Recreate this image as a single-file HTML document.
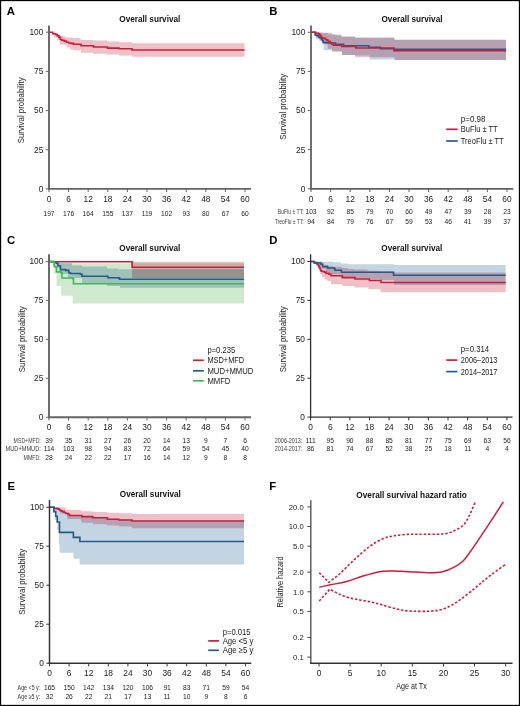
<!DOCTYPE html><html><head><meta charset="utf-8"><style>html,body{margin:0;padding:0;background:#fff}svg{display:block}text{font-family:"Liberation Sans",sans-serif}</style></head><body>
<svg width="520" height="706" viewBox="0 0 520 706">
<rect x="0" y="0" width="520" height="706" fill="#fff"/>
<text transform="translate(6.80,14.90)" font-size="11.3" font-weight="bold" text-anchor="start" fill="#000">A</text>
<text transform="translate(269.30,14.90)" font-size="11.3" font-weight="bold" text-anchor="start" fill="#000">B</text>
<text transform="translate(7.00,243.70)" font-size="11.3" font-weight="bold" text-anchor="start" fill="#000">C</text>
<text transform="translate(269.30,243.50)" font-size="11.3" font-weight="bold" text-anchor="start" fill="#000">D</text>
<text transform="translate(7.40,489.90)" font-size="11.3" font-weight="bold" text-anchor="start" fill="#000">E</text>
<text transform="translate(269.30,489.90)" font-size="11.3" font-weight="bold" text-anchor="start" fill="#000">F</text>
<text transform="translate(149.80,22.40)" font-size="9.3" font-weight="bold" text-anchor="middle" fill="#111" textLength="61" lengthAdjust="spacingAndGlyphs">Overall survival</text>
<text transform="translate(412.00,22.40)" font-size="9.3" font-weight="bold" text-anchor="middle" fill="#111" textLength="61" lengthAdjust="spacingAndGlyphs">Overall survival</text>
<text transform="translate(149.80,251.00)" font-size="9.3" font-weight="bold" text-anchor="middle" fill="#111" textLength="61" lengthAdjust="spacingAndGlyphs">Overall survival</text>
<text transform="translate(411.80,251.00)" font-size="9.3" font-weight="bold" text-anchor="middle" fill="#111" textLength="61" lengthAdjust="spacingAndGlyphs">Overall survival</text>
<text transform="translate(150.30,497.40)" font-size="9.3" font-weight="bold" text-anchor="middle" fill="#111" textLength="61" lengthAdjust="spacingAndGlyphs">Overall survival</text>
<text transform="translate(411.60,497.50)" font-size="9.6" font-weight="bold" text-anchor="middle" fill="#111" textLength="110.5" lengthAdjust="spacingAndGlyphs">Overall survival hazard ratio</text>
<path d="M49.00,32.20 L52.60,32.20 L52.60,32.20 L54.90,32.20 L54.90,33.40 L58.00,33.40 L58.00,34.50 L60.30,34.50 L60.30,35.70 L63.40,35.70 L63.40,36.50 L65.70,36.50 L65.70,37.60 L72.60,37.60 L72.60,38.00 L79.50,38.00 L79.50,38.80 L81.00,38.80 L81.00,39.90 L93.00,39.90 L93.00,40.60 L107.00,40.60 L107.00,41.40 L119.00,41.40 L119.00,42.20 L132.00,42.20 L132.00,43.30 L244.50,43.30 L244.50,56.80 L132.00,56.80 L132.00,55.40 L119.00,55.40 L119.00,54.60 L107.00,54.60 L107.00,53.80 L93.00,53.80 L93.00,52.80 L81.00,52.80 L81.00,50.30 L73.40,50.30 L73.40,49.50 L70.30,49.50 L70.30,47.60 L66.80,47.60 L66.80,45.30 L63.40,45.30 L63.40,44.50 L59.90,44.50 L59.90,39.90 L57.20,39.90 L57.20,37.60 L54.20,37.60 L54.20,35.70 L53.40,35.70 L53.40,32.60 L51.00,32.60 L51.00,32.20 L49.00,32.20Z" fill="#eec1c9" style="mix-blend-mode:multiply"/>
<path d="M49.00,32.20H52.60V33.80H55.70V34.50H57.20V35.70H58.80V37.20H60.30V39.50H61.80V40.30H64.20V41.10H66.50V42.20H68.80V43.00H71.00V43.40H73.40V44.20H81.00V45.80H93.50V47.00H107.50V48.10H119.00V48.80H132.00V50.00H244.50" fill="none" stroke="#cc1c3c" stroke-width="1.6" stroke-linejoin="miter"/>
<line x1="49" y1="25.4" x2="49" y2="189.85" stroke="#646464" stroke-width="1.9"/>
<line x1="48.05" y1="188.9" x2="251" y2="188.9" stroke="#646464" stroke-width="1.9"/>
<line x1="45.8" y1="32.20" x2="49" y2="32.20" stroke="#646464" stroke-width="1"/>
<text transform="translate(43.40,35.10) scale(1.020,1)" font-size="8.2" font-weight="normal" text-anchor="end" fill="#222222">100</text>
<line x1="45.8" y1="71.38" x2="49" y2="71.38" stroke="#646464" stroke-width="1"/>
<text transform="translate(43.40,74.28) scale(1.020,1)" font-size="8.2" font-weight="normal" text-anchor="end" fill="#222222">75</text>
<line x1="45.8" y1="110.55" x2="49" y2="110.55" stroke="#646464" stroke-width="1"/>
<text transform="translate(43.40,113.45) scale(1.020,1)" font-size="8.2" font-weight="normal" text-anchor="end" fill="#222222">50</text>
<line x1="45.8" y1="149.72" x2="49" y2="149.72" stroke="#646464" stroke-width="1"/>
<text transform="translate(43.40,152.62) scale(1.020,1)" font-size="8.2" font-weight="normal" text-anchor="end" fill="#222222">25</text>
<line x1="45.8" y1="188.90" x2="49" y2="188.90" stroke="#646464" stroke-width="1"/>
<text transform="translate(43.40,191.80) scale(1.020,1)" font-size="8.2" font-weight="normal" text-anchor="end" fill="#222222">0</text>
<line x1="49.00" y1="188.9" x2="49.00" y2="192.1" stroke="#646464" stroke-width="1"/>
<text transform="translate(49.00,202.00)" font-size="8.4" font-weight="normal" text-anchor="middle" fill="#222222">0</text>
<line x1="68.60" y1="188.9" x2="68.60" y2="192.1" stroke="#646464" stroke-width="1"/>
<text transform="translate(68.60,202.00)" font-size="8.4" font-weight="normal" text-anchor="middle" fill="#222222">6</text>
<line x1="88.20" y1="188.9" x2="88.20" y2="192.1" stroke="#646464" stroke-width="1"/>
<text transform="translate(88.20,202.00)" font-size="8.4" font-weight="normal" text-anchor="middle" fill="#222222">12</text>
<line x1="107.80" y1="188.9" x2="107.80" y2="192.1" stroke="#646464" stroke-width="1"/>
<text transform="translate(107.80,202.00)" font-size="8.4" font-weight="normal" text-anchor="middle" fill="#222222">18</text>
<line x1="127.40" y1="188.9" x2="127.40" y2="192.1" stroke="#646464" stroke-width="1"/>
<text transform="translate(127.40,202.00)" font-size="8.4" font-weight="normal" text-anchor="middle" fill="#222222">24</text>
<line x1="147.00" y1="188.9" x2="147.00" y2="192.1" stroke="#646464" stroke-width="1"/>
<text transform="translate(147.00,202.00)" font-size="8.4" font-weight="normal" text-anchor="middle" fill="#222222">30</text>
<line x1="166.60" y1="188.9" x2="166.60" y2="192.1" stroke="#646464" stroke-width="1"/>
<text transform="translate(166.60,202.00)" font-size="8.4" font-weight="normal" text-anchor="middle" fill="#222222">36</text>
<line x1="186.20" y1="188.9" x2="186.20" y2="192.1" stroke="#646464" stroke-width="1"/>
<text transform="translate(186.20,202.00)" font-size="8.4" font-weight="normal" text-anchor="middle" fill="#222222">42</text>
<line x1="205.80" y1="188.9" x2="205.80" y2="192.1" stroke="#646464" stroke-width="1"/>
<text transform="translate(205.80,202.00)" font-size="8.4" font-weight="normal" text-anchor="middle" fill="#222222">48</text>
<line x1="225.40" y1="188.9" x2="225.40" y2="192.1" stroke="#646464" stroke-width="1"/>
<text transform="translate(225.40,202.00)" font-size="8.4" font-weight="normal" text-anchor="middle" fill="#222222">54</text>
<line x1="245.00" y1="188.9" x2="245.00" y2="192.1" stroke="#646464" stroke-width="1"/>
<text transform="translate(245.00,202.00)" font-size="8.4" font-weight="normal" text-anchor="middle" fill="#222222">60</text>
<text transform="translate(24.00,110.30) rotate(-90)" font-size="9" font-weight="normal" text-anchor="middle" fill="#222222" textLength="66" lengthAdjust="spacingAndGlyphs">Survival probability</text>
<text transform="translate(49.00,215.80)" font-size="6.7" font-weight="normal" text-anchor="middle" fill="#222222">197</text>
<text transform="translate(68.60,215.80)" font-size="6.7" font-weight="normal" text-anchor="middle" fill="#222222">176</text>
<text transform="translate(88.20,215.80)" font-size="6.7" font-weight="normal" text-anchor="middle" fill="#222222">164</text>
<text transform="translate(107.80,215.80)" font-size="6.7" font-weight="normal" text-anchor="middle" fill="#222222">155</text>
<text transform="translate(127.40,215.80)" font-size="6.7" font-weight="normal" text-anchor="middle" fill="#222222">137</text>
<text transform="translate(147.00,215.80)" font-size="6.7" font-weight="normal" text-anchor="middle" fill="#222222">119</text>
<text transform="translate(166.60,215.80)" font-size="6.7" font-weight="normal" text-anchor="middle" fill="#222222">102</text>
<text transform="translate(186.20,215.80)" font-size="6.7" font-weight="normal" text-anchor="middle" fill="#222222">93</text>
<text transform="translate(205.80,215.80)" font-size="6.7" font-weight="normal" text-anchor="middle" fill="#222222">80</text>
<text transform="translate(225.40,215.80)" font-size="6.7" font-weight="normal" text-anchor="middle" fill="#222222">67</text>
<text transform="translate(245.00,215.80)" font-size="6.7" font-weight="normal" text-anchor="middle" fill="#222222">60</text>
<path d="M311.00,32.30 L319.00,32.30 L319.00,32.40 L325.00,32.40 L325.00,32.80 L332.00,32.80 L332.00,34.50 L341.30,34.50 L341.30,36.80 L355.00,36.80 L355.00,37.80 L394.00,37.80 L394.00,38.50 L394.50,38.50 L394.50,39.80 L506.00,39.80 L506.00,60.00 L394.50,60.00 L394.50,57.50 L394.00,57.50 L394.00,57.30 L369.60,57.30 L369.60,57.30 L355.00,57.30 L355.00,55.00 L342.00,55.00 L342.00,51.80 L332.00,51.80 L332.00,48.80 L327.80,48.80 L327.80,44.50 L325.50,44.50 L325.50,43.40 L321.70,43.40 L321.70,38.00 L319.50,38.00 L319.50,35.00 L317.00,35.00 L317.00,33.00 L314.00,33.00 L314.00,32.30 L311.00,32.30Z" fill="#eec1c9" style="mix-blend-mode:multiply"/>
<path d="M311.00,32.30 L316.00,32.30 L316.00,32.40 L322.00,32.40 L322.00,33.00 L328.00,33.00 L328.00,34.20 L335.00,34.20 L335.00,35.50 L342.00,35.50 L342.00,36.50 L355.00,36.50 L355.00,37.60 L394.00,37.60 L394.00,38.30 L394.50,38.30 L394.50,39.80 L506.00,39.80 L506.00,60.00 L394.50,60.00 L394.50,59.60 L394.00,59.60 L394.00,59.60 L369.60,59.60 L369.60,55.50 L355.00,55.50 L355.00,55.00 L342.00,55.00 L342.00,51.00 L332.00,51.00 L332.00,50.30 L323.60,50.30 L323.60,44.50 L322.50,44.50 L322.50,41.00 L319.00,41.00 L319.00,39.20 L316.00,39.20 L316.00,36.00 L315.00,36.00 L315.00,33.00 L313.00,33.00 L313.00,32.30 L311.00,32.30Z" fill="#c3d5e2" style="mix-blend-mode:multiply"/>
<path d="M311.00,32.30H315.20V35.30H316.70V35.70H318.20V36.80H319.40V37.60H321.30V39.50H322.50V40.70H323.20V42.20H324.40V42.60H328.20V43.00H335.50V44.20H343.60V45.70H355.00V45.80H368.80V47.30H380.40V48.80H394.00V49.40H506.00" fill="none" stroke="#255b8c" stroke-width="1.6" stroke-linejoin="miter"/>
<path d="M311.00,32.30H315.50V33.40H318.20V33.80H319.40V34.90H320.50V36.10H321.30V37.60H322.80V38.40H325.50V39.50H327.00V40.30H328.20V41.50H330.20V42.60H331.30V43.00H332.00V44.20H333.60V45.30H341.70V46.50H355.80V48.00H394.00V50.60H506.00" fill="none" stroke="#cc1c3c" stroke-width="1.6" stroke-linejoin="miter"/>
<line x1="311" y1="25.4" x2="311" y2="189.70000000000002" stroke="#606060" stroke-width="1.8"/>
<line x1="310.1" y1="188.8" x2="513.3" y2="188.8" stroke="#606060" stroke-width="1.8"/>
<line x1="307.8" y1="32.30" x2="311" y2="32.30" stroke="#606060" stroke-width="1"/>
<text transform="translate(305.40,35.20) scale(1.020,1)" font-size="8.2" font-weight="normal" text-anchor="end" fill="#222222">100</text>
<line x1="307.8" y1="71.42" x2="311" y2="71.42" stroke="#606060" stroke-width="1"/>
<text transform="translate(305.40,74.33) scale(1.020,1)" font-size="8.2" font-weight="normal" text-anchor="end" fill="#222222">75</text>
<line x1="307.8" y1="110.55" x2="311" y2="110.55" stroke="#606060" stroke-width="1"/>
<text transform="translate(305.40,113.45) scale(1.020,1)" font-size="8.2" font-weight="normal" text-anchor="end" fill="#222222">50</text>
<line x1="307.8" y1="149.68" x2="311" y2="149.68" stroke="#606060" stroke-width="1"/>
<text transform="translate(305.40,152.58) scale(1.020,1)" font-size="8.2" font-weight="normal" text-anchor="end" fill="#222222">25</text>
<line x1="307.8" y1="188.80" x2="311" y2="188.80" stroke="#606060" stroke-width="1"/>
<text transform="translate(305.40,191.70) scale(1.020,1)" font-size="8.2" font-weight="normal" text-anchor="end" fill="#222222">0</text>
<line x1="311.00" y1="188.8" x2="311.00" y2="192.0" stroke="#606060" stroke-width="1"/>
<text transform="translate(311.00,202.00)" font-size="8.4" font-weight="normal" text-anchor="middle" fill="#222222">0</text>
<line x1="330.60" y1="188.8" x2="330.60" y2="192.0" stroke="#606060" stroke-width="1"/>
<text transform="translate(330.60,202.00)" font-size="8.4" font-weight="normal" text-anchor="middle" fill="#222222">6</text>
<line x1="350.20" y1="188.8" x2="350.20" y2="192.0" stroke="#606060" stroke-width="1"/>
<text transform="translate(350.20,202.00)" font-size="8.4" font-weight="normal" text-anchor="middle" fill="#222222">12</text>
<line x1="369.80" y1="188.8" x2="369.80" y2="192.0" stroke="#606060" stroke-width="1"/>
<text transform="translate(369.80,202.00)" font-size="8.4" font-weight="normal" text-anchor="middle" fill="#222222">18</text>
<line x1="389.40" y1="188.8" x2="389.40" y2="192.0" stroke="#606060" stroke-width="1"/>
<text transform="translate(389.40,202.00)" font-size="8.4" font-weight="normal" text-anchor="middle" fill="#222222">24</text>
<line x1="409.00" y1="188.8" x2="409.00" y2="192.0" stroke="#606060" stroke-width="1"/>
<text transform="translate(409.00,202.00)" font-size="8.4" font-weight="normal" text-anchor="middle" fill="#222222">30</text>
<line x1="428.60" y1="188.8" x2="428.60" y2="192.0" stroke="#606060" stroke-width="1"/>
<text transform="translate(428.60,202.00)" font-size="8.4" font-weight="normal" text-anchor="middle" fill="#222222">36</text>
<line x1="448.20" y1="188.8" x2="448.20" y2="192.0" stroke="#606060" stroke-width="1"/>
<text transform="translate(448.20,202.00)" font-size="8.4" font-weight="normal" text-anchor="middle" fill="#222222">42</text>
<line x1="467.80" y1="188.8" x2="467.80" y2="192.0" stroke="#606060" stroke-width="1"/>
<text transform="translate(467.80,202.00)" font-size="8.4" font-weight="normal" text-anchor="middle" fill="#222222">48</text>
<line x1="487.40" y1="188.8" x2="487.40" y2="192.0" stroke="#606060" stroke-width="1"/>
<text transform="translate(487.40,202.00)" font-size="8.4" font-weight="normal" text-anchor="middle" fill="#222222">54</text>
<line x1="507.00" y1="188.8" x2="507.00" y2="192.0" stroke="#606060" stroke-width="1"/>
<text transform="translate(507.00,202.00)" font-size="8.4" font-weight="normal" text-anchor="middle" fill="#222222">60</text>
<text transform="translate(285.60,106.80) rotate(-90)" font-size="9" font-weight="normal" text-anchor="middle" fill="#222222" textLength="66" lengthAdjust="spacingAndGlyphs">Survival probability</text>
<text transform="translate(311.00,213.90)" font-size="6.7" font-weight="normal" text-anchor="middle" fill="#222222">103</text>
<text transform="translate(330.60,213.90)" font-size="6.7" font-weight="normal" text-anchor="middle" fill="#222222">92</text>
<text transform="translate(350.20,213.90)" font-size="6.7" font-weight="normal" text-anchor="middle" fill="#222222">85</text>
<text transform="translate(369.80,213.90)" font-size="6.7" font-weight="normal" text-anchor="middle" fill="#222222">79</text>
<text transform="translate(389.40,213.90)" font-size="6.7" font-weight="normal" text-anchor="middle" fill="#222222">70</text>
<text transform="translate(409.00,213.90)" font-size="6.7" font-weight="normal" text-anchor="middle" fill="#222222">60</text>
<text transform="translate(428.60,213.90)" font-size="6.7" font-weight="normal" text-anchor="middle" fill="#222222">49</text>
<text transform="translate(448.20,213.90)" font-size="6.7" font-weight="normal" text-anchor="middle" fill="#222222">47</text>
<text transform="translate(467.80,213.90)" font-size="6.7" font-weight="normal" text-anchor="middle" fill="#222222">39</text>
<text transform="translate(487.40,213.90)" font-size="6.7" font-weight="normal" text-anchor="middle" fill="#222222">28</text>
<text transform="translate(507.00,213.90)" font-size="6.7" font-weight="normal" text-anchor="middle" fill="#222222">23</text>
<text transform="translate(303.60,213.90)" font-size="6.5" font-weight="normal" text-anchor="end" fill="#3a3a3a" textLength="25.8" lengthAdjust="spacingAndGlyphs">BuFlu ± TT:</text>
<text transform="translate(311.00,223.60)" font-size="6.7" font-weight="normal" text-anchor="middle" fill="#222222">94</text>
<text transform="translate(330.60,223.60)" font-size="6.7" font-weight="normal" text-anchor="middle" fill="#222222">84</text>
<text transform="translate(350.20,223.60)" font-size="6.7" font-weight="normal" text-anchor="middle" fill="#222222">79</text>
<text transform="translate(369.80,223.60)" font-size="6.7" font-weight="normal" text-anchor="middle" fill="#222222">76</text>
<text transform="translate(389.40,223.60)" font-size="6.7" font-weight="normal" text-anchor="middle" fill="#222222">67</text>
<text transform="translate(409.00,223.60)" font-size="6.7" font-weight="normal" text-anchor="middle" fill="#222222">59</text>
<text transform="translate(428.60,223.60)" font-size="6.7" font-weight="normal" text-anchor="middle" fill="#222222">53</text>
<text transform="translate(448.20,223.60)" font-size="6.7" font-weight="normal" text-anchor="middle" fill="#222222">46</text>
<text transform="translate(467.80,223.60)" font-size="6.7" font-weight="normal" text-anchor="middle" fill="#222222">41</text>
<text transform="translate(487.40,223.60)" font-size="6.7" font-weight="normal" text-anchor="middle" fill="#222222">39</text>
<text transform="translate(507.00,223.60)" font-size="6.7" font-weight="normal" text-anchor="middle" fill="#222222">37</text>
<text transform="translate(303.60,223.60)" font-size="6.5" font-weight="normal" text-anchor="end" fill="#3a3a3a" textLength="28.8" lengthAdjust="spacingAndGlyphs">TreoFlu ± TT:</text>
<text transform="translate(460.80,121.60)" font-size="8.7" font-weight="normal" text-anchor="start" fill="#1a1a1a" textLength="24.6" lengthAdjust="spacingAndGlyphs">p=0.98</text>
<line x1="446.2" y1="129.3" x2="457.7" y2="129.3" stroke="#cc1c3c" stroke-width="1.7"/>
<text transform="translate(460.80,132.40)" font-size="8.7" font-weight="normal" text-anchor="start" fill="#1a1a1a" textLength="36.8" lengthAdjust="spacingAndGlyphs">BuFlu ± TT</text>
<line x1="446.2" y1="141.0" x2="457.7" y2="141.0" stroke="#255b8c" stroke-width="1.7"/>
<text transform="translate(460.80,144.10)" font-size="8.7" font-weight="normal" text-anchor="start" fill="#1a1a1a" textLength="42.8" lengthAdjust="spacingAndGlyphs">TreoFlu ± TT</text>
<path d="M49.00,261.50 L56.00,261.50 L56.00,262.50 L60.00,262.50 L60.00,263.20 L244.00,263.20 L244.00,303.60 L72.70,303.60 L72.70,295.80 L61.20,295.80 L61.20,286.00 L56.50,286.00 L56.50,273.40 L54.20,273.40 L54.20,266.00 L53.00,266.00 L53.00,262.50 L51.00,262.50 L51.00,261.50 L49.00,261.50Z" fill="#cfe9cf" style="mix-blend-mode:multiply"/>
<path d="M49.00,261.50 L56.50,261.50 L56.50,263.00 L72.00,263.00 L72.00,265.60 L82.00,265.60 L82.00,266.50 L107.00,266.50 L107.00,268.50 L118.00,268.50 L118.00,269.30 L244.00,269.30 L244.00,287.70 L120.00,287.70 L120.00,286.00 L107.00,286.00 L107.00,283.00 L82.00,283.00 L82.00,278.00 L68.00,278.00 L68.00,274.00 L60.00,274.00 L60.00,268.00 L57.00,268.00 L57.00,264.00 L54.00,264.00 L54.00,261.50 L49.00,261.50Z" fill="#c3d5e2" style="mix-blend-mode:multiply"/>
<path d="M132.00,261.70 L244.00,261.70 L244.00,278.00 L132.00,278.00Z" fill="#eec1c9" style="mix-blend-mode:multiply"/>
<path d="M49.00,261.80H132.10V267.20H244.00" fill="none" stroke="#cc1c3c" stroke-width="1.6" stroke-linejoin="miter"/>
<path d="M49.00,261.50H53.50V262.00H56.50V263.50H58.00V265.80H60.40V269.60H65.80V270.40H68.80V272.70H70.40V273.50H80.40V274.20H82.00V276.20H107.30V276.50H108.00V277.80H118.50V278.10H119.60V279.20H244.00" fill="none" stroke="#255b8c" stroke-width="1.6" stroke-linejoin="miter"/>
<path d="M49.00,261.50H53.50V262.00H54.20V266.50H55.80V267.30H56.50V271.90H61.20V272.70H62.00V278.00H72.70V278.80H73.50V283.80H244.00" fill="none" stroke="#45b755" stroke-width="1.6" stroke-linejoin="miter"/>
<line x1="49" y1="254.3" x2="49" y2="418.25" stroke="#646464" stroke-width="1.9"/>
<line x1="48.05" y1="417.3" x2="251" y2="417.3" stroke="#646464" stroke-width="1.9"/>
<line x1="45.8" y1="261.50" x2="49" y2="261.50" stroke="#646464" stroke-width="1"/>
<text transform="translate(43.40,264.40) scale(1.020,1)" font-size="8.2" font-weight="normal" text-anchor="end" fill="#222222">100</text>
<line x1="45.8" y1="300.45" x2="49" y2="300.45" stroke="#646464" stroke-width="1"/>
<text transform="translate(43.40,303.35) scale(1.020,1)" font-size="8.2" font-weight="normal" text-anchor="end" fill="#222222">75</text>
<line x1="45.8" y1="339.40" x2="49" y2="339.40" stroke="#646464" stroke-width="1"/>
<text transform="translate(43.40,342.30) scale(1.020,1)" font-size="8.2" font-weight="normal" text-anchor="end" fill="#222222">50</text>
<line x1="45.8" y1="378.35" x2="49" y2="378.35" stroke="#646464" stroke-width="1"/>
<text transform="translate(43.40,381.25) scale(1.020,1)" font-size="8.2" font-weight="normal" text-anchor="end" fill="#222222">25</text>
<line x1="45.8" y1="417.30" x2="49" y2="417.30" stroke="#646464" stroke-width="1"/>
<text transform="translate(43.40,420.20) scale(1.020,1)" font-size="8.2" font-weight="normal" text-anchor="end" fill="#222222">0</text>
<line x1="49.00" y1="417.3" x2="49.00" y2="420.5" stroke="#646464" stroke-width="1"/>
<text transform="translate(49.00,430.30)" font-size="8.4" font-weight="normal" text-anchor="middle" fill="#222222">0</text>
<line x1="68.60" y1="417.3" x2="68.60" y2="420.5" stroke="#646464" stroke-width="1"/>
<text transform="translate(68.60,430.30)" font-size="8.4" font-weight="normal" text-anchor="middle" fill="#222222">6</text>
<line x1="88.20" y1="417.3" x2="88.20" y2="420.5" stroke="#646464" stroke-width="1"/>
<text transform="translate(88.20,430.30)" font-size="8.4" font-weight="normal" text-anchor="middle" fill="#222222">12</text>
<line x1="107.80" y1="417.3" x2="107.80" y2="420.5" stroke="#646464" stroke-width="1"/>
<text transform="translate(107.80,430.30)" font-size="8.4" font-weight="normal" text-anchor="middle" fill="#222222">18</text>
<line x1="127.40" y1="417.3" x2="127.40" y2="420.5" stroke="#646464" stroke-width="1"/>
<text transform="translate(127.40,430.30)" font-size="8.4" font-weight="normal" text-anchor="middle" fill="#222222">24</text>
<line x1="147.00" y1="417.3" x2="147.00" y2="420.5" stroke="#646464" stroke-width="1"/>
<text transform="translate(147.00,430.30)" font-size="8.4" font-weight="normal" text-anchor="middle" fill="#222222">30</text>
<line x1="166.60" y1="417.3" x2="166.60" y2="420.5" stroke="#646464" stroke-width="1"/>
<text transform="translate(166.60,430.30)" font-size="8.4" font-weight="normal" text-anchor="middle" fill="#222222">36</text>
<line x1="186.20" y1="417.3" x2="186.20" y2="420.5" stroke="#646464" stroke-width="1"/>
<text transform="translate(186.20,430.30)" font-size="8.4" font-weight="normal" text-anchor="middle" fill="#222222">42</text>
<line x1="205.80" y1="417.3" x2="205.80" y2="420.5" stroke="#646464" stroke-width="1"/>
<text transform="translate(205.80,430.30)" font-size="8.4" font-weight="normal" text-anchor="middle" fill="#222222">48</text>
<line x1="225.40" y1="417.3" x2="225.40" y2="420.5" stroke="#646464" stroke-width="1"/>
<text transform="translate(225.40,430.30)" font-size="8.4" font-weight="normal" text-anchor="middle" fill="#222222">54</text>
<line x1="245.00" y1="417.3" x2="245.00" y2="420.5" stroke="#646464" stroke-width="1"/>
<text transform="translate(245.00,430.30)" font-size="8.4" font-weight="normal" text-anchor="middle" fill="#222222">60</text>
<text transform="translate(25.00,339.20) rotate(-90)" font-size="9" font-weight="normal" text-anchor="middle" fill="#222222" textLength="66" lengthAdjust="spacingAndGlyphs">Survival probability</text>
<text transform="translate(49.00,443.00)" font-size="6.7" font-weight="normal" text-anchor="middle" fill="#222222">39</text>
<text transform="translate(68.60,443.00)" font-size="6.7" font-weight="normal" text-anchor="middle" fill="#222222">35</text>
<text transform="translate(88.20,443.00)" font-size="6.7" font-weight="normal" text-anchor="middle" fill="#222222">31</text>
<text transform="translate(107.80,443.00)" font-size="6.7" font-weight="normal" text-anchor="middle" fill="#222222">27</text>
<text transform="translate(127.40,443.00)" font-size="6.7" font-weight="normal" text-anchor="middle" fill="#222222">26</text>
<text transform="translate(147.00,443.00)" font-size="6.7" font-weight="normal" text-anchor="middle" fill="#222222">20</text>
<text transform="translate(166.60,443.00)" font-size="6.7" font-weight="normal" text-anchor="middle" fill="#222222">14</text>
<text transform="translate(186.20,443.00)" font-size="6.7" font-weight="normal" text-anchor="middle" fill="#222222">13</text>
<text transform="translate(205.80,443.00)" font-size="6.7" font-weight="normal" text-anchor="middle" fill="#222222">9</text>
<text transform="translate(225.40,443.00)" font-size="6.7" font-weight="normal" text-anchor="middle" fill="#222222">7</text>
<text transform="translate(245.00,443.00)" font-size="6.7" font-weight="normal" text-anchor="middle" fill="#222222">6</text>
<text transform="translate(40.80,443.00)" font-size="6.5" font-weight="normal" text-anchor="end" fill="#3a3a3a" textLength="27.2" lengthAdjust="spacingAndGlyphs">MSD+MFD:</text>
<text transform="translate(49.00,451.40)" font-size="6.7" font-weight="normal" text-anchor="middle" fill="#222222">114</text>
<text transform="translate(68.60,451.40)" font-size="6.7" font-weight="normal" text-anchor="middle" fill="#222222">103</text>
<text transform="translate(88.20,451.40)" font-size="6.7" font-weight="normal" text-anchor="middle" fill="#222222">98</text>
<text transform="translate(107.80,451.40)" font-size="6.7" font-weight="normal" text-anchor="middle" fill="#222222">94</text>
<text transform="translate(127.40,451.40)" font-size="6.7" font-weight="normal" text-anchor="middle" fill="#222222">83</text>
<text transform="translate(147.00,451.40)" font-size="6.7" font-weight="normal" text-anchor="middle" fill="#222222">72</text>
<text transform="translate(166.60,451.40)" font-size="6.7" font-weight="normal" text-anchor="middle" fill="#222222">64</text>
<text transform="translate(186.20,451.40)" font-size="6.7" font-weight="normal" text-anchor="middle" fill="#222222">59</text>
<text transform="translate(205.80,451.40)" font-size="6.7" font-weight="normal" text-anchor="middle" fill="#222222">54</text>
<text transform="translate(225.40,451.40)" font-size="6.7" font-weight="normal" text-anchor="middle" fill="#222222">45</text>
<text transform="translate(245.00,451.40)" font-size="6.7" font-weight="normal" text-anchor="middle" fill="#222222">40</text>
<text transform="translate(40.80,451.40)" font-size="6.5" font-weight="normal" text-anchor="end" fill="#3a3a3a" textLength="35.2" lengthAdjust="spacingAndGlyphs">MUD+MMUD:</text>
<text transform="translate(49.00,459.90)" font-size="6.7" font-weight="normal" text-anchor="middle" fill="#222222">28</text>
<text transform="translate(68.60,459.90)" font-size="6.7" font-weight="normal" text-anchor="middle" fill="#222222">24</text>
<text transform="translate(88.20,459.90)" font-size="6.7" font-weight="normal" text-anchor="middle" fill="#222222">22</text>
<text transform="translate(107.80,459.90)" font-size="6.7" font-weight="normal" text-anchor="middle" fill="#222222">22</text>
<text transform="translate(127.40,459.90)" font-size="6.7" font-weight="normal" text-anchor="middle" fill="#222222">17</text>
<text transform="translate(147.00,459.90)" font-size="6.7" font-weight="normal" text-anchor="middle" fill="#222222">16</text>
<text transform="translate(166.60,459.90)" font-size="6.7" font-weight="normal" text-anchor="middle" fill="#222222">14</text>
<text transform="translate(186.20,459.90)" font-size="6.7" font-weight="normal" text-anchor="middle" fill="#222222">12</text>
<text transform="translate(205.80,459.90)" font-size="6.7" font-weight="normal" text-anchor="middle" fill="#222222">9</text>
<text transform="translate(225.40,459.90)" font-size="6.7" font-weight="normal" text-anchor="middle" fill="#222222">8</text>
<text transform="translate(245.00,459.90)" font-size="6.7" font-weight="normal" text-anchor="middle" fill="#222222">8</text>
<text transform="translate(40.80,459.90)" font-size="6.5" font-weight="normal" text-anchor="end" fill="#3a3a3a" textLength="17.2" lengthAdjust="spacingAndGlyphs">MMFD:</text>
<text transform="translate(207.40,353.10)" font-size="8.7" font-weight="normal" text-anchor="start" fill="#1a1a1a" textLength="27.8" lengthAdjust="spacingAndGlyphs">p=0.235</text>
<line x1="193" y1="360.3" x2="203.8" y2="360.3" stroke="#cc1c3c" stroke-width="1.7"/>
<text transform="translate(207.40,363.40)" font-size="8.7" font-weight="normal" text-anchor="start" fill="#1a1a1a" textLength="36.8" lengthAdjust="spacingAndGlyphs">MSD+MFD</text>
<line x1="193" y1="370.8" x2="203.8" y2="370.8" stroke="#255b8c" stroke-width="1.7"/>
<text transform="translate(207.40,373.90)" font-size="8.7" font-weight="normal" text-anchor="start" fill="#1a1a1a" textLength="46" lengthAdjust="spacingAndGlyphs">MUD+MMUD</text>
<line x1="193" y1="380.8" x2="203.8" y2="380.8" stroke="#45b755" stroke-width="1.7"/>
<text transform="translate(207.40,383.90)" font-size="8.7" font-weight="normal" text-anchor="start" fill="#1a1a1a" textLength="23" lengthAdjust="spacingAndGlyphs">MMFD</text>
<path d="M310.60,261.50 L321.80,261.50 L321.80,261.80 L333.40,261.80 L333.40,262.20 L341.00,262.20 L341.00,263.40 L348.00,263.40 L348.00,264.20 L393.00,264.20 L393.00,264.30 L394.00,264.30 L394.00,265.00 L505.70,265.00 L505.70,285.10 L394.20,285.10 L394.20,279.90 L380.40,279.90 L380.40,279.30 L368.80,279.30 L368.80,278.40 L355.00,278.40 L355.00,278.20 L348.00,278.20 L348.00,277.20 L341.00,277.20 L341.00,274.20 L328.80,274.20 L328.80,272.20 L325.70,272.20 L325.70,268.80 L321.80,268.80 L321.80,266.00 L319.00,266.00 L319.00,264.00 L317.00,264.00 L317.00,262.50 L314.50,262.50 L314.50,261.50 L310.60,261.50Z" fill="#c3d5e2" style="mix-blend-mode:multiply"/>
<path d="M310.60,261.50 L318.00,261.50 L318.00,262.50 L323.40,262.50 L323.40,264.90 L328.20,264.90 L328.20,266.00 L333.40,266.00 L333.40,266.80 L341.80,266.80 L341.80,268.00 L348.00,268.00 L348.00,269.00 L353.80,269.00 L353.80,269.50 L367.70,269.50 L367.70,270.70 L379.80,270.70 L379.80,271.30 L393.00,271.30 L393.00,271.80 L394.20,271.80 L394.20,272.40 L505.70,272.40 L505.70,292.30 L380.40,292.30 L380.40,289.20 L368.30,289.20 L368.30,287.40 L354.40,287.40 L354.40,285.90 L342.30,285.90 L342.30,284.20 L331.00,284.20 L331.00,281.10 L327.20,281.10 L327.20,279.50 L324.50,279.50 L324.50,277.20 L322.20,277.20 L322.20,274.20 L320.30,274.20 L320.30,269.50 L318.00,269.50 L318.00,266.50 L316.50,266.50 L316.50,263.80 L314.50,263.80 L314.50,262.20 L312.50,262.20 L312.50,261.50 L310.60,261.50Z" fill="#eec1c9" style="mix-blend-mode:multiply"/>
<path d="M310.60,261.50H314.20V263.00H317.20V264.20H318.40V265.80H319.20V267.20H320.00V269.00H320.70V270.70H321.80V271.50H324.50V272.20H326.00V273.40H328.80V274.20H331.00V275.70H342.30V277.60H355.00V279.00H369.40V280.50H381.00V282.50H505.70" fill="none" stroke="#cc1c3c" stroke-width="1.6" stroke-linejoin="miter"/>
<path d="M310.60,261.50H314.50V263.00H321.00V264.20H322.60V266.60H327.60V268.00H334.60V269.00H335.00V270.30H341.40V272.30H393.60V275.30H505.70" fill="none" stroke="#255b8c" stroke-width="1.6" stroke-linejoin="miter"/>
<line x1="310.6" y1="254.3" x2="310.6" y2="417.75" stroke="#2e2e2e" stroke-width="1.3"/>
<line x1="309.95000000000005" y1="417.1" x2="512.5" y2="417.1" stroke="#2e2e2e" stroke-width="1.3"/>
<line x1="307.40000000000003" y1="261.50" x2="310.6" y2="261.50" stroke="#2e2e2e" stroke-width="1"/>
<text transform="translate(305.00,264.40) scale(1.020,1)" font-size="8.2" font-weight="normal" text-anchor="end" fill="#222222">100</text>
<line x1="307.40000000000003" y1="300.40" x2="310.6" y2="300.40" stroke="#2e2e2e" stroke-width="1"/>
<text transform="translate(305.00,303.30) scale(1.020,1)" font-size="8.2" font-weight="normal" text-anchor="end" fill="#222222">75</text>
<line x1="307.40000000000003" y1="339.30" x2="310.6" y2="339.30" stroke="#2e2e2e" stroke-width="1"/>
<text transform="translate(305.00,342.20) scale(1.020,1)" font-size="8.2" font-weight="normal" text-anchor="end" fill="#222222">50</text>
<line x1="307.40000000000003" y1="378.20" x2="310.6" y2="378.20" stroke="#2e2e2e" stroke-width="1"/>
<text transform="translate(305.00,381.10) scale(1.020,1)" font-size="8.2" font-weight="normal" text-anchor="end" fill="#222222">25</text>
<line x1="307.40000000000003" y1="417.10" x2="310.6" y2="417.10" stroke="#2e2e2e" stroke-width="1"/>
<text transform="translate(305.00,420.00) scale(1.020,1)" font-size="8.2" font-weight="normal" text-anchor="end" fill="#222222">0</text>
<line x1="310.60" y1="417.1" x2="310.60" y2="420.3" stroke="#2e2e2e" stroke-width="1"/>
<text transform="translate(310.60,430.40)" font-size="8.4" font-weight="normal" text-anchor="middle" fill="#222222">0</text>
<line x1="330.23" y1="417.1" x2="330.23" y2="420.3" stroke="#2e2e2e" stroke-width="1"/>
<text transform="translate(330.23,430.40)" font-size="8.4" font-weight="normal" text-anchor="middle" fill="#222222">6</text>
<line x1="349.86" y1="417.1" x2="349.86" y2="420.3" stroke="#2e2e2e" stroke-width="1"/>
<text transform="translate(349.86,430.40)" font-size="8.4" font-weight="normal" text-anchor="middle" fill="#222222">12</text>
<line x1="369.49" y1="417.1" x2="369.49" y2="420.3" stroke="#2e2e2e" stroke-width="1"/>
<text transform="translate(369.49,430.40)" font-size="8.4" font-weight="normal" text-anchor="middle" fill="#222222">18</text>
<line x1="389.12" y1="417.1" x2="389.12" y2="420.3" stroke="#2e2e2e" stroke-width="1"/>
<text transform="translate(389.12,430.40)" font-size="8.4" font-weight="normal" text-anchor="middle" fill="#222222">24</text>
<line x1="408.75" y1="417.1" x2="408.75" y2="420.3" stroke="#2e2e2e" stroke-width="1"/>
<text transform="translate(408.75,430.40)" font-size="8.4" font-weight="normal" text-anchor="middle" fill="#222222">30</text>
<line x1="428.38" y1="417.1" x2="428.38" y2="420.3" stroke="#2e2e2e" stroke-width="1"/>
<text transform="translate(428.38,430.40)" font-size="8.4" font-weight="normal" text-anchor="middle" fill="#222222">36</text>
<line x1="448.01" y1="417.1" x2="448.01" y2="420.3" stroke="#2e2e2e" stroke-width="1"/>
<text transform="translate(448.01,430.40)" font-size="8.4" font-weight="normal" text-anchor="middle" fill="#222222">42</text>
<line x1="467.64" y1="417.1" x2="467.64" y2="420.3" stroke="#2e2e2e" stroke-width="1"/>
<text transform="translate(467.64,430.40)" font-size="8.4" font-weight="normal" text-anchor="middle" fill="#222222">48</text>
<line x1="487.27" y1="417.1" x2="487.27" y2="420.3" stroke="#2e2e2e" stroke-width="1"/>
<text transform="translate(487.27,430.40)" font-size="8.4" font-weight="normal" text-anchor="middle" fill="#222222">54</text>
<line x1="506.90" y1="417.1" x2="506.90" y2="420.3" stroke="#2e2e2e" stroke-width="1"/>
<text transform="translate(506.90,430.40)" font-size="8.4" font-weight="normal" text-anchor="middle" fill="#222222">60</text>
<text transform="translate(285.60,339.20) rotate(-90)" font-size="9" font-weight="normal" text-anchor="middle" fill="#222222" textLength="66" lengthAdjust="spacingAndGlyphs">Survival probability</text>
<text transform="translate(310.60,442.80)" font-size="6.7" font-weight="normal" text-anchor="middle" fill="#222222">111</text>
<text transform="translate(330.23,442.80)" font-size="6.7" font-weight="normal" text-anchor="middle" fill="#222222">95</text>
<text transform="translate(349.86,442.80)" font-size="6.7" font-weight="normal" text-anchor="middle" fill="#222222">90</text>
<text transform="translate(369.49,442.80)" font-size="6.7" font-weight="normal" text-anchor="middle" fill="#222222">88</text>
<text transform="translate(389.12,442.80)" font-size="6.7" font-weight="normal" text-anchor="middle" fill="#222222">85</text>
<text transform="translate(408.75,442.80)" font-size="6.7" font-weight="normal" text-anchor="middle" fill="#222222">81</text>
<text transform="translate(428.38,442.80)" font-size="6.7" font-weight="normal" text-anchor="middle" fill="#222222">77</text>
<text transform="translate(448.01,442.80)" font-size="6.7" font-weight="normal" text-anchor="middle" fill="#222222">75</text>
<text transform="translate(467.64,442.80)" font-size="6.7" font-weight="normal" text-anchor="middle" fill="#222222">69</text>
<text transform="translate(487.27,442.80)" font-size="6.7" font-weight="normal" text-anchor="middle" fill="#222222">63</text>
<text transform="translate(506.90,442.80)" font-size="6.7" font-weight="normal" text-anchor="middle" fill="#222222">56</text>
<text transform="translate(302.40,442.80)" font-size="6.5" font-weight="normal" text-anchor="end" fill="#3a3a3a" textLength="27.6" lengthAdjust="spacingAndGlyphs">2006-2013:</text>
<text transform="translate(310.60,451.40)" font-size="6.7" font-weight="normal" text-anchor="middle" fill="#222222">86</text>
<text transform="translate(330.23,451.40)" font-size="6.7" font-weight="normal" text-anchor="middle" fill="#222222">81</text>
<text transform="translate(349.86,451.40)" font-size="6.7" font-weight="normal" text-anchor="middle" fill="#222222">74</text>
<text transform="translate(369.49,451.40)" font-size="6.7" font-weight="normal" text-anchor="middle" fill="#222222">67</text>
<text transform="translate(389.12,451.40)" font-size="6.7" font-weight="normal" text-anchor="middle" fill="#222222">52</text>
<text transform="translate(408.75,451.40)" font-size="6.7" font-weight="normal" text-anchor="middle" fill="#222222">38</text>
<text transform="translate(428.38,451.40)" font-size="6.7" font-weight="normal" text-anchor="middle" fill="#222222">25</text>
<text transform="translate(448.01,451.40)" font-size="6.7" font-weight="normal" text-anchor="middle" fill="#222222">18</text>
<text transform="translate(467.64,451.40)" font-size="6.7" font-weight="normal" text-anchor="middle" fill="#222222">11</text>
<text transform="translate(487.27,451.40)" font-size="6.7" font-weight="normal" text-anchor="middle" fill="#222222">4</text>
<text transform="translate(506.90,451.40)" font-size="6.7" font-weight="normal" text-anchor="middle" fill="#222222">4</text>
<text transform="translate(302.40,451.40)" font-size="6.5" font-weight="normal" text-anchor="end" fill="#3a3a3a" textLength="27.6" lengthAdjust="spacingAndGlyphs">2014-2017:</text>
<text transform="translate(460.80,352.30)" font-size="8.7" font-weight="normal" text-anchor="start" fill="#1a1a1a" textLength="28.3" lengthAdjust="spacingAndGlyphs">p=0.314</text>
<line x1="446.2" y1="360.1" x2="457.3" y2="360.1" stroke="#cc1c3c" stroke-width="1.7"/>
<text transform="translate(460.80,363.20)" font-size="8.7" font-weight="normal" text-anchor="start" fill="#1a1a1a" textLength="36.6" lengthAdjust="spacingAndGlyphs">2006–2013</text>
<line x1="446.2" y1="371.6" x2="457.3" y2="371.6" stroke="#255b8c" stroke-width="1.7"/>
<text transform="translate(460.80,374.70)" font-size="8.7" font-weight="normal" text-anchor="start" fill="#1a1a1a" textLength="36.6" lengthAdjust="spacingAndGlyphs">2014–2017</text>
<path d="M49.50,507.20 L58.00,507.20 L58.00,510.50 L65.00,510.50 L65.00,512.50 L69.50,512.50 L69.50,515.00 L81.80,515.00 L81.80,516.20 L93.00,516.20 L93.00,517.30 L107.00,517.30 L107.00,518.80 L119.00,518.80 L119.00,519.60 L132.00,519.60 L132.00,520.60 L244.00,520.60 L244.00,564.40 L79.60,564.40 L79.60,558.80 L73.50,558.80 L73.50,552.80 L59.60,552.80 L59.60,544.60 L58.80,544.60 L58.80,530.00 L57.30,530.00 L57.30,520.00 L55.00,520.00 L55.00,512.00 L53.00,512.00 L53.00,507.20 L49.50,507.20Z" fill="#c3d5e2" style="mix-blend-mode:multiply"/>
<path d="M49.50,507.20 L59.50,507.20 L59.50,507.40 L65.70,507.40 L65.70,509.70 L72.60,509.70 L72.60,510.00 L81.00,510.00 L81.00,511.20 L93.00,511.20 L93.00,512.00 L107.00,512.00 L107.00,512.80 L119.00,512.80 L119.00,513.30 L132.00,513.30 L132.00,513.90 L244.00,513.90 L244.00,528.30 L132.00,528.30 L132.00,526.50 L119.00,526.50 L119.00,525.50 L107.00,525.50 L107.00,524.20 L93.00,524.20 L93.00,522.80 L81.80,522.80 L81.80,521.20 L81.00,521.20 L81.00,519.00 L67.20,519.00 L67.20,513.50 L60.30,513.50 L60.30,510.00 L56.00,510.00 L56.00,507.20 L49.50,507.20Z" fill="#eec1c9" style="mix-blend-mode:multiply"/>
<path d="M49.50,507.20H54.20V508.50H58.00V508.90H59.00V509.80H60.30V510.80H62.00V511.50H64.00V512.50H65.70V513.50H68.00V514.50H69.50V515.50H81.80V516.60H92.70V517.70H107.30V519.20H118.80V520.00H132.00V521.00H244.00" fill="none" stroke="#cc1c3c" stroke-width="1.6" stroke-linejoin="miter"/>
<path d="M49.50,507.20H53.80V511.60H55.70V516.20H57.20V522.00H59.50V532.40H73.40V537.40H79.90V541.50H244.00" fill="none" stroke="#255b8c" stroke-width="1.6" stroke-linejoin="miter"/>
<line x1="49.5" y1="500.1" x2="49.5" y2="663.95" stroke="#333333" stroke-width="1.5"/>
<line x1="48.75" y1="663.2" x2="251.3" y2="663.2" stroke="#333333" stroke-width="1.5"/>
<line x1="46.3" y1="507.20" x2="49.5" y2="507.20" stroke="#333333" stroke-width="1"/>
<text transform="translate(43.90,510.10) scale(1.020,1)" font-size="8.2" font-weight="normal" text-anchor="end" fill="#222222">100</text>
<line x1="46.3" y1="546.20" x2="49.5" y2="546.20" stroke="#333333" stroke-width="1"/>
<text transform="translate(43.90,549.10) scale(1.020,1)" font-size="8.2" font-weight="normal" text-anchor="end" fill="#222222">75</text>
<line x1="46.3" y1="585.20" x2="49.5" y2="585.20" stroke="#333333" stroke-width="1"/>
<text transform="translate(43.90,588.10) scale(1.020,1)" font-size="8.2" font-weight="normal" text-anchor="end" fill="#222222">50</text>
<line x1="46.3" y1="624.20" x2="49.5" y2="624.20" stroke="#333333" stroke-width="1"/>
<text transform="translate(43.90,627.10) scale(1.020,1)" font-size="8.2" font-weight="normal" text-anchor="end" fill="#222222">25</text>
<line x1="46.3" y1="663.20" x2="49.5" y2="663.20" stroke="#333333" stroke-width="1"/>
<text transform="translate(43.90,666.10) scale(1.020,1)" font-size="8.2" font-weight="normal" text-anchor="end" fill="#222222">0</text>
<line x1="49.50" y1="663.2" x2="49.50" y2="666.4000000000001" stroke="#333333" stroke-width="1"/>
<text transform="translate(49.50,676.20)" font-size="8.4" font-weight="normal" text-anchor="middle" fill="#222222">0</text>
<line x1="69.10" y1="663.2" x2="69.10" y2="666.4000000000001" stroke="#333333" stroke-width="1"/>
<text transform="translate(69.10,676.20)" font-size="8.4" font-weight="normal" text-anchor="middle" fill="#222222">6</text>
<line x1="88.70" y1="663.2" x2="88.70" y2="666.4000000000001" stroke="#333333" stroke-width="1"/>
<text transform="translate(88.70,676.20)" font-size="8.4" font-weight="normal" text-anchor="middle" fill="#222222">12</text>
<line x1="108.30" y1="663.2" x2="108.30" y2="666.4000000000001" stroke="#333333" stroke-width="1"/>
<text transform="translate(108.30,676.20)" font-size="8.4" font-weight="normal" text-anchor="middle" fill="#222222">18</text>
<line x1="127.90" y1="663.2" x2="127.90" y2="666.4000000000001" stroke="#333333" stroke-width="1"/>
<text transform="translate(127.90,676.20)" font-size="8.4" font-weight="normal" text-anchor="middle" fill="#222222">24</text>
<line x1="147.50" y1="663.2" x2="147.50" y2="666.4000000000001" stroke="#333333" stroke-width="1"/>
<text transform="translate(147.50,676.20)" font-size="8.4" font-weight="normal" text-anchor="middle" fill="#222222">30</text>
<line x1="167.10" y1="663.2" x2="167.10" y2="666.4000000000001" stroke="#333333" stroke-width="1"/>
<text transform="translate(167.10,676.20)" font-size="8.4" font-weight="normal" text-anchor="middle" fill="#222222">36</text>
<line x1="186.70" y1="663.2" x2="186.70" y2="666.4000000000001" stroke="#333333" stroke-width="1"/>
<text transform="translate(186.70,676.20)" font-size="8.4" font-weight="normal" text-anchor="middle" fill="#222222">42</text>
<line x1="206.30" y1="663.2" x2="206.30" y2="666.4000000000001" stroke="#333333" stroke-width="1"/>
<text transform="translate(206.30,676.20)" font-size="8.4" font-weight="normal" text-anchor="middle" fill="#222222">48</text>
<line x1="225.90" y1="663.2" x2="225.90" y2="666.4000000000001" stroke="#333333" stroke-width="1"/>
<text transform="translate(225.90,676.20)" font-size="8.4" font-weight="normal" text-anchor="middle" fill="#222222">54</text>
<line x1="245.50" y1="663.2" x2="245.50" y2="666.4000000000001" stroke="#333333" stroke-width="1"/>
<text transform="translate(245.50,676.20)" font-size="8.4" font-weight="normal" text-anchor="middle" fill="#222222">60</text>
<text transform="translate(24.80,581.80) rotate(-90)" font-size="9" font-weight="normal" text-anchor="middle" fill="#222222" textLength="66" lengthAdjust="spacingAndGlyphs">Survival probability</text>
<text transform="translate(49.50,690.00)" font-size="6.7" font-weight="normal" text-anchor="middle" fill="#222222">165</text>
<text transform="translate(69.10,690.00)" font-size="6.7" font-weight="normal" text-anchor="middle" fill="#222222">150</text>
<text transform="translate(88.70,690.00)" font-size="6.7" font-weight="normal" text-anchor="middle" fill="#222222">142</text>
<text transform="translate(108.30,690.00)" font-size="6.7" font-weight="normal" text-anchor="middle" fill="#222222">134</text>
<text transform="translate(127.90,690.00)" font-size="6.7" font-weight="normal" text-anchor="middle" fill="#222222">120</text>
<text transform="translate(147.50,690.00)" font-size="6.7" font-weight="normal" text-anchor="middle" fill="#222222">106</text>
<text transform="translate(167.10,690.00)" font-size="6.7" font-weight="normal" text-anchor="middle" fill="#222222">91</text>
<text transform="translate(186.70,690.00)" font-size="6.7" font-weight="normal" text-anchor="middle" fill="#222222">83</text>
<text transform="translate(206.30,690.00)" font-size="6.7" font-weight="normal" text-anchor="middle" fill="#222222">71</text>
<text transform="translate(225.90,690.00)" font-size="6.7" font-weight="normal" text-anchor="middle" fill="#222222">59</text>
<text transform="translate(245.50,690.00)" font-size="6.7" font-weight="normal" text-anchor="middle" fill="#222222">54</text>
<text transform="translate(40.20,690.00)" font-size="6.5" font-weight="normal" text-anchor="end" fill="#3a3a3a" textLength="22.6" lengthAdjust="spacingAndGlyphs">Age &lt;5 y:</text>
<text transform="translate(49.50,699.40)" font-size="6.7" font-weight="normal" text-anchor="middle" fill="#222222">32</text>
<text transform="translate(69.10,699.40)" font-size="6.7" font-weight="normal" text-anchor="middle" fill="#222222">26</text>
<text transform="translate(88.70,699.40)" font-size="6.7" font-weight="normal" text-anchor="middle" fill="#222222">22</text>
<text transform="translate(108.30,699.40)" font-size="6.7" font-weight="normal" text-anchor="middle" fill="#222222">21</text>
<text transform="translate(127.90,699.40)" font-size="6.7" font-weight="normal" text-anchor="middle" fill="#222222">17</text>
<text transform="translate(147.50,699.40)" font-size="6.7" font-weight="normal" text-anchor="middle" fill="#222222">13</text>
<text transform="translate(167.10,699.40)" font-size="6.7" font-weight="normal" text-anchor="middle" fill="#222222">11</text>
<text transform="translate(186.70,699.40)" font-size="6.7" font-weight="normal" text-anchor="middle" fill="#222222">10</text>
<text transform="translate(206.30,699.40)" font-size="6.7" font-weight="normal" text-anchor="middle" fill="#222222">9</text>
<text transform="translate(225.90,699.40)" font-size="6.7" font-weight="normal" text-anchor="middle" fill="#222222">8</text>
<text transform="translate(245.50,699.40)" font-size="6.7" font-weight="normal" text-anchor="middle" fill="#222222">6</text>
<text transform="translate(40.20,699.40)" font-size="6.5" font-weight="normal" text-anchor="end" fill="#3a3a3a" textLength="22.6" lengthAdjust="spacingAndGlyphs">Age ≥5 y:</text>
<text transform="translate(222.70,635.20)" font-size="8.7" font-weight="normal" text-anchor="start" fill="#1a1a1a" textLength="27.8" lengthAdjust="spacingAndGlyphs">p=0.015</text>
<line x1="208.2" y1="640.9" x2="218.9" y2="640.9" stroke="#cc1c3c" stroke-width="1.7"/>
<text transform="translate(222.70,644.00)" font-size="8.7" font-weight="normal" text-anchor="start" fill="#1a1a1a" textLength="30.6" lengthAdjust="spacingAndGlyphs">Age &lt;5 y</text>
<line x1="208.2" y1="650.3" x2="218.9" y2="650.3" stroke="#255b8c" stroke-width="1.7"/>
<text transform="translate(222.70,653.40)" font-size="8.7" font-weight="normal" text-anchor="start" fill="#1a1a1a" textLength="30.6" lengthAdjust="spacingAndGlyphs">Age ≥5 y</text>
<line x1="310.8" y1="500.2" x2="310.8" y2="664" stroke="#555" stroke-width="1.4"/>
<line x1="310.1" y1="663.3" x2="512.5" y2="663.3" stroke="#333" stroke-width="1.4"/>
<line x1="307.4" y1="506.88" x2="310.8" y2="506.88" stroke="#444" stroke-width="1"/>
<text transform="translate(303.80,509.58)" font-size="7.7" font-weight="normal" text-anchor="end" fill="#222222">20.0</text>
<line x1="307.4" y1="526.53" x2="310.8" y2="526.53" stroke="#444" stroke-width="1"/>
<text transform="translate(303.80,529.23)" font-size="7.7" font-weight="normal" text-anchor="end" fill="#222222">10.0</text>
<line x1="307.4" y1="546.18" x2="310.8" y2="546.18" stroke="#444" stroke-width="1"/>
<text transform="translate(303.80,548.88)" font-size="7.7" font-weight="normal" text-anchor="end" fill="#222222">5.0</text>
<line x1="307.4" y1="572.15" x2="310.8" y2="572.15" stroke="#444" stroke-width="1"/>
<text transform="translate(303.80,574.85)" font-size="7.7" font-weight="normal" text-anchor="end" fill="#222222">2.0</text>
<line x1="307.4" y1="591.80" x2="310.8" y2="591.80" stroke="#444" stroke-width="1"/>
<text transform="translate(303.80,594.50)" font-size="7.7" font-weight="normal" text-anchor="end" fill="#222222">1.0</text>
<line x1="307.4" y1="611.45" x2="310.8" y2="611.45" stroke="#444" stroke-width="1"/>
<text transform="translate(303.80,614.15)" font-size="7.7" font-weight="normal" text-anchor="end" fill="#222222">0.5</text>
<line x1="307.4" y1="637.42" x2="310.8" y2="637.42" stroke="#444" stroke-width="1"/>
<text transform="translate(303.80,640.12)" font-size="7.7" font-weight="normal" text-anchor="end" fill="#222222">0.2</text>
<line x1="307.4" y1="657.07" x2="310.8" y2="657.07" stroke="#444" stroke-width="1"/>
<text transform="translate(303.80,659.77)" font-size="7.7" font-weight="normal" text-anchor="end" fill="#222222">0.1</text>
<line x1="319.00" y1="663.3" x2="319.00" y2="666.5" stroke="#333" stroke-width="1"/>
<text transform="translate(319.00,676.20)" font-size="8.4" font-weight="normal" text-anchor="middle" fill="#222222">0</text>
<line x1="350.10" y1="663.3" x2="350.10" y2="666.5" stroke="#333" stroke-width="1"/>
<text transform="translate(350.10,676.20)" font-size="8.4" font-weight="normal" text-anchor="middle" fill="#222222">5</text>
<line x1="381.20" y1="663.3" x2="381.20" y2="666.5" stroke="#333" stroke-width="1"/>
<text transform="translate(381.20,676.20)" font-size="8.4" font-weight="normal" text-anchor="middle" fill="#222222">10</text>
<line x1="412.30" y1="663.3" x2="412.30" y2="666.5" stroke="#333" stroke-width="1"/>
<text transform="translate(412.30,676.20)" font-size="8.4" font-weight="normal" text-anchor="middle" fill="#222222">15</text>
<line x1="443.40" y1="663.3" x2="443.40" y2="666.5" stroke="#333" stroke-width="1"/>
<text transform="translate(443.40,676.20)" font-size="8.4" font-weight="normal" text-anchor="middle" fill="#222222">20</text>
<line x1="474.50" y1="663.3" x2="474.50" y2="666.5" stroke="#333" stroke-width="1"/>
<text transform="translate(474.50,676.20)" font-size="8.4" font-weight="normal" text-anchor="middle" fill="#222222">25</text>
<line x1="505.60" y1="663.3" x2="505.60" y2="666.5" stroke="#333" stroke-width="1"/>
<text transform="translate(505.60,676.20)" font-size="8.4" font-weight="normal" text-anchor="middle" fill="#222222">30</text>
<text transform="translate(411.50,688.60)" font-size="9" font-weight="normal" text-anchor="middle" fill="#222222" textLength="30.5" lengthAdjust="spacingAndGlyphs">Age at Tx</text>
<text transform="translate(283.00,582.00) rotate(-90)" font-size="9" font-weight="normal" text-anchor="middle" fill="#222222" textLength="51" lengthAdjust="spacingAndGlyphs">Relative hazard</text>
<path d="M319.20,587.30 C321.07,586.88 325.97,585.73 330.40,584.80 C334.83,583.87 340.37,583.17 345.80,581.70 C351.23,580.23 357.55,577.63 363.00,576.00 C368.45,574.37 374.00,572.73 378.50,571.90 C383.00,571.07 386.17,571.10 390.00,571.00 C393.83,570.90 397.33,571.12 401.50,571.30 C405.67,571.48 410.38,571.87 415.00,572.10 C419.62,572.33 424.58,572.77 429.20,572.70 C433.82,572.63 438.53,572.62 442.70,571.70 C446.87,570.78 450.90,568.90 454.20,567.20 C457.50,565.50 460.28,563.45 462.50,561.50 C464.72,559.55 465.67,557.88 467.50,555.50 C469.33,553.12 470.27,551.92 473.50,547.20 C476.73,542.48 481.93,534.75 486.90,527.20 C491.87,519.65 500.57,506.12 503.30,501.90" fill="none" stroke="#cc1c3c" stroke-width="1.5"/>
<path d="M319.2,572.7 L328.8,582.3  C330.67,580.83 335.88,577.13 340.00,573.50 C344.12,569.87 348.70,564.92 353.50,560.50 C358.30,556.08 364.00,550.58 368.80,547.00 C373.60,543.42 378.13,540.87 382.30,539.00 C386.47,537.13 389.63,536.57 393.80,535.80 C397.97,535.03 402.93,534.67 407.30,534.40 C411.67,534.13 414.10,534.27 420.00,534.20 C425.90,534.13 437.00,534.57 442.70,534.00 C448.40,533.43 450.68,532.37 454.20,530.80 C457.72,529.23 461.23,527.23 463.80,524.60 C466.37,521.97 467.67,518.85 469.60,515.00 C471.53,511.15 474.43,503.75 475.40,501.50" fill="none" stroke="#cc1c3c" stroke-width="1.6" stroke-dasharray="2.4,1.9"/>
<path d="M319.2,601 L329.8,589.2  C331.40,590.03 336.13,592.77 339.40,594.20 C342.67,595.63 345.80,596.80 349.40,597.80 C353.00,598.80 357.23,599.47 361.00,600.20 C364.77,600.93 368.45,601.40 372.00,602.20 C375.55,603.00 378.02,603.83 382.30,605.00 C386.58,606.17 393.22,608.20 397.70,609.20 C402.18,610.20 403.95,610.67 409.20,611.00 C414.45,611.33 423.30,611.60 429.20,611.20 C435.10,610.80 439.47,610.50 444.60,608.60 C449.73,606.70 454.55,603.53 460.00,599.80 C465.45,596.07 472.17,590.33 477.30,586.20 C482.43,582.07 485.98,578.70 490.80,575.00 C495.62,571.30 503.63,565.83 506.20,564.00" fill="none" stroke="#cc1c3c" stroke-width="1.6" stroke-dasharray="2.4,1.9"/>
<rect x="0" y="0" width="520" height="1.15" fill="#000"/><rect x="0" y="0" width="1.15" height="706" fill="#000"/><rect x="518.85" y="0" width="1.15" height="706" fill="#000"/><rect x="0" y="704.85" width="520" height="1.15" fill="#000"/>
</svg></body></html>
